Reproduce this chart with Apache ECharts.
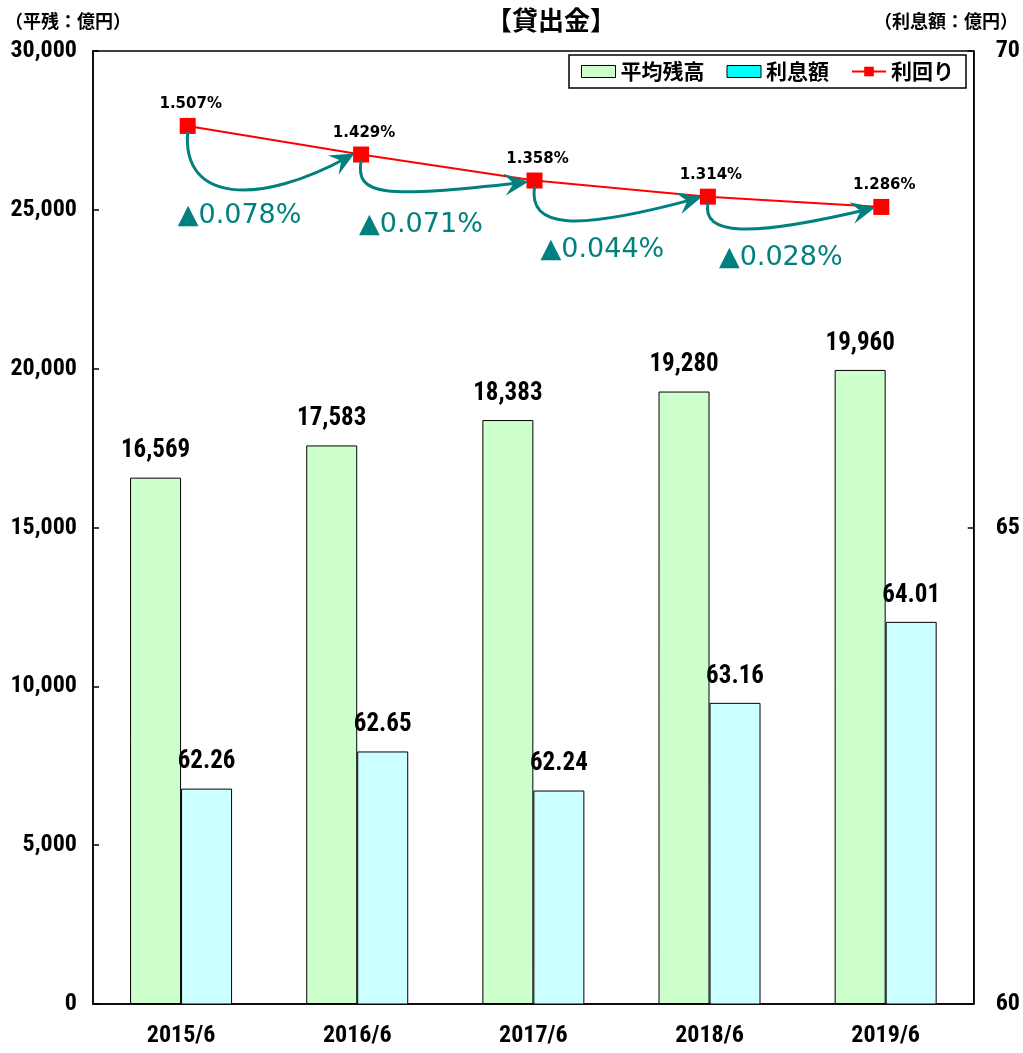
<!DOCTYPE html>
<html><head><meta charset="utf-8">
<script src="https://cdn.jsdelivr.net/npm/echarts@6/dist/echarts.min.js"></script>
<style>html,body{margin:0;padding:0;background:#fff}#c{width:1023px;height:1053px}</style>
</head><body><div id="c"></div>
<script>
const categories = ['2015/6','2016/6','2017/6','2018/6','2019/6'];
const balance = [16569, 17583, 18383, 19280, 19960];
const interest = [62.26, 62.65, 62.24, 63.16, 64.01];
const yieldRate = [1.507, 1.429, 1.358, 1.314, 1.286];
const declines = ['▲0.078%','▲0.071%','▲0.044%','▲0.028%'];
const leftTicks = [0, 5000, 10000, 15000, 20000, 25000, 30000];

const NARROW = {fontStyle: 'condensed', fontWeight: 'bold', fontFamily: 'Roboto', color: '#000'};
const JP = '"Noto Sans CJK JP"';
const teal = '#00807f';
const chart = echarts.init(document.getElementById('c'));
chart.setOption({
  animation: false,
  backgroundColor: '#fff',
  grid: [
    {left: 93, right: 42, top: 51, bottom: 49, show: true, borderColor: '#000', borderWidth: 1.5},
    {left: 101, right: 55, top: 51, bottom: 49}
  ],
  title: [
    {text: '【貸出金】', left: 481, top: 2, textStyle: {fontSize: 26, fontWeight: 'bold', color: '#000', fontFamily: JP}},
    {text: '（平残：億円）', left: 0, top: 7, textStyle: {fontSize: 18, fontWeight: 'bold', color: '#000', fontFamily: JP}},
    {text: '（利息額：億円）', right: 0, top: 7, textStyle: {fontSize: 18, fontWeight: 'bold', color: '#000', fontFamily: JP}}
  ],
  legend: {
    right: 57, top: 55,
    backgroundColor: '#fff', borderColor: '#000', borderWidth: 1.5,
    padding: [6, 12, 6, 12], itemGap: 22, itemWidth: 34, itemHeight: 12,
    textStyle: {fontSize: 21, fontWeight: 'bold', color: '#000', fontFamily: JP},
    data: [
      {name: '平均残高', icon: 'rect', itemStyle: {color: '#ccffcc', borderColor: '#000', borderWidth: 1}},
      {name: '利息額', icon: 'rect', itemStyle: {color: '#00ffff', borderColor: '#000', borderWidth: 1}},
      {name: '利回り'}
    ]
  },
  xAxis: [
    {type: 'category', data: categories, gridIndex: 0,
     axisLine: {lineStyle: {color: '#000', width: 1.5}},
     axisTick: {inside: true, length: 8, lineStyle: {color: '#000', width: 1.5}},
     axisLabel: Object.assign({fontSize: 24, margin: 20}, NARROW)},
    {type: 'category', data: categories, gridIndex: 1, show: false}
  ],
  yAxis: [
    {type: 'value', min: 0, max: 30000, interval: 5000, splitLine: {show: false}, gridIndex: 0,
     axisLine: {show: true, lineStyle: {color: '#000', width: 1.5}},
     axisTick: {show: true, inside: true, length: 6, lineStyle: {color: '#000', width: 1.5}},
     axisLabel: Object.assign({fontSize: 24, margin: 16,
       formatter: v => leftTicks.includes(v) ? v.toLocaleString('en-US') : ''}, NARROW)},
    {type: 'value', min: 60, max: 70, interval: 5, splitLine: {show: false}, gridIndex: 0,
     axisLine: {show: true, lineStyle: {color: '#000', width: 1.5}},
     axisTick: {show: true, inside: true, length: 6, lineStyle: {color: '#000', width: 1.5}},
     axisLabel: Object.assign({fontSize: 24, margin: 22}, NARROW)},
    {type: 'value', min: -0.8886, max: 1.7114, show: false, gridIndex: 1}
  ],
  series: [
    {name: '平均残高', type: 'bar', xAxisIndex: 0, yAxisIndex: 0, data: balance, barWidth: 51, barGap: '0%',
     itemStyle: {color: '#ccffcc', borderColor: '#000', borderWidth: 1},
     label: Object.assign({show: true, position: 'top', distance: 14, fontSize: 25,
       formatter: p => p.value.toLocaleString('en-US')}, NARROW)},
    {name: '利息額', type: 'bar', xAxisIndex: 0, yAxisIndex: 1, data: interest, barWidth: 51,
     itemStyle: {color: '#ccffff', borderColor: '#000', borderWidth: 1},
     label: Object.assign({show: true, position: 'top', distance: 14, fontSize: 25,
       formatter: p => p.value.toFixed(2)}, NARROW)},
    {name: '利回り', type: 'line', xAxisIndex: 1, yAxisIndex: 2, data: yieldRate, symbol: 'rect', symbolSize: 16,
     lineStyle: {color: '#ff0000', width: 2}, itemStyle: {color: '#ff0000'}, z: 5,
     label: {show: true, position: 'top', distance: 6, offset: [3, 0], fontSize: 15, fontWeight: 'bold', color: '#000', fontFamily: '"DejaVu Sans"',
       formatter: p => p.value.toFixed(3) + '%'}}
  ]
});

// decorative arrows between consecutive yield points: [cp1 drop, cp2 dx, cp2 drop, text dx, text dy]
const arrowShape = [[70, 70, 75, -10, 90], [35, 20, 38, -2, 70], [42, 40, 45, 6, 69], [33, 40, 35, 11, 61]];
const g = [];
for (let i = 0; i < yieldRate.length - 1; i++) {
  const a = chart.convertToPixel({seriesIndex: 2}, [i, yieldRate[i]]);
  const b = chart.convertToPixel({seriesIndex: 2}, [i + 1, yieldRate[i + 1]]);
  const s = arrowShape[i];
  const sx = a[0], sy = a[1] + 6;
  const ex = b[0] - 12, ey = b[1] + 2;
  const c1x = sx - 6, c1y = sy + s[0], c2x = sx + s[1], c2y = sy + s[2];
  g.push({type: 'bezierCurve', z: 10,
    shape: {x1: sx, y1: sy, cpx1: c1x, cpy1: c1y, cpx2: c2x, cpy2: c2y, x2: ex, y2: ey},
    style: {stroke: teal, lineWidth: 3, fill: null}});
  const dx = ex - c2x, dy = ey - c2y;
  const L = Math.hypot(dx, dy), ux = dx / L, uy = dy / L, px = -uy, py = ux;
  const tipx = ex + ux * 6, tipy = ey + uy * 6;
  g.push({type: 'polygon', z: 11,
    shape: {points: [
      [tipx, tipy],
      [tipx - ux * 24 + px * 11, tipy - uy * 24 + py * 11],
      [tipx - ux * 15, tipy - uy * 15],
      [tipx - ux * 24 - px * 11, tipy - uy * 24 - py * 11]
    ]},
    style: {fill: teal}});
  g.push({type: 'text', z: 12, x: a[0] + s[3], y: a[1] + s[4],
    style: {text: declines[i], fill: teal, fontSize: 27, fontFamily: '"DejaVu Sans"', textVerticalAlign: 'middle'}});
}
chart.setOption({graphic: g});
</script>
</body></html>
